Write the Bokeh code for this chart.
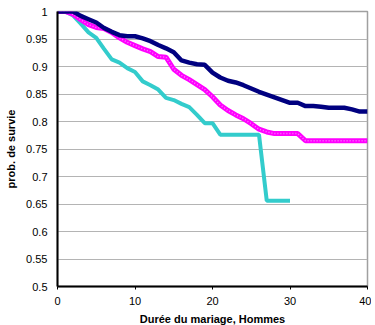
from bokeh.plotting import figure
from bokeh.models import FixedTicker, ColumnDataSource
from bokeh.embed import file_html
from bokeh.resources import INLINE

years_navy = list(range(0, 41))
navy_vals = [1.0, 1.0, 1.0, 0.992, 0.986, 0.980, 0.970, 0.963, 0.957, 0.955,
             0.955, 0.951, 0.946, 0.939, 0.933, 0.926, 0.911, 0.907, 0.904, 0.903,
             0.889, 0.880, 0.874, 0.871, 0.866, 0.860, 0.854, 0.849, 0.844, 0.839,
             0.834, 0.834, 0.828, 0.828, 0.827, 0.825, 0.825, 0.825, 0.822, 0.818,
             0.818]

years_magenta = list(range(0, 41))
magenta_vals = [1.0, 1.0, 0.995, 0.985, 0.976, 0.971, 0.969, 0.962, 0.952, 0.944,
                0.938, 0.932, 0.927, 0.918, 0.917, 0.895, 0.884, 0.876, 0.867, 0.858,
                0.845, 0.830, 0.820, 0.812, 0.805, 0.796, 0.786, 0.781, 0.778, 0.778,
                0.778, 0.778, 0.765, 0.765, 0.765, 0.765, 0.765, 0.765, 0.765, 0.765,
                0.765]

years_cyan = list(range(0, 31))
cyan_vals = [1.0, 1.0, 0.993, 0.978, 0.962, 0.952, 0.932, 0.913, 0.907, 0.897,
             0.890, 0.873, 0.866, 0.858, 0.843, 0.839, 0.832, 0.826, 0.812, 0.797,
             0.797, 0.776, 0.776, 0.776, 0.776, 0.776, 0.776, 0.656, 0.656, 0.656,
             0.656]

x_ticks = [0, 10, 20, 30, 40]
y_ticks = [0.5, 0.55, 0.6, 0.65, 0.7, 0.75, 0.8, 0.85, 0.9, 0.95, 1.0]
y_tick_labels = ["0.5", "0.55", "0.6", "0.65", "0.7", "0.75", "0.8", "0.85", "0.9", "0.95", "1"]

FONT = "Liberation Sans"

p = figure(frame_width=310, frame_height=275, output_backend="svg", toolbar_location=None,
           x_range=(0, 40), y_range=(0.5, 1.0),
           min_border_left=57, min_border_right=4, min_border_top=11, min_border_bottom=30)

p.background_fill_color = "white"
p.border_fill_color = "white"
p.outline_line_color = "#a0a0a0"
p.outline_line_width = 1.5

p.xgrid.grid_line_color = None
p.ygrid.grid_line_color = "#b4b4b4"
p.ygrid.grid_line_width = 1

src_n = ColumnDataSource(dict(x=years_navy, y=navy_vals))
src_m = ColumnDataSource(dict(x=years_magenta, y=magenta_vals))
src_c = ColumnDataSource(dict(x=years_cyan, y=cyan_vals))

p.line("x", "y", source=src_c, line_color="#33CCCC", line_width=4)
p.line("x", "y", source=src_m, line_color="#FF00FF", line_width=5)
p.line("x", "y", source=src_m, line_color="#FFB0FF", line_width=1.5, line_dash="1 2", line_alpha=0.7)
p.line("x", "y", source=src_n, line_color="#000080", line_width=4.5)

for ax in (p.xaxis, p.yaxis):
    ax.axis_line_color = "black"
    ax.axis_line_width = 2
    ax.major_tick_line_color = "black"
    ax.major_tick_in = 0
    ax.major_tick_out = 3
    ax.minor_tick_line_color = None
    ax.major_label_text_font = FONT
    ax.major_label_text_font_size = "11px"
    ax.major_label_text_color = "black"
    ax.axis_label_text_font = FONT
    ax.axis_label_text_font_style = "bold"
    ax.axis_label_text_font_size = "11px"
    ax.axis_label_text_color = "black"

p.xaxis.ticker = FixedTicker(ticks=x_ticks)
p.yaxis.ticker = FixedTicker(ticks=y_ticks)
p.yaxis.major_label_overrides = {t: l for t, l in zip(y_ticks, y_tick_labels)}
p.yaxis.major_tick_out = 0
p.yaxis.major_label_standoff = 10
p.xaxis.major_label_standoff = 7
p.xaxis.axis_label = "Durée du mariage, Hommes"
p.yaxis.axis_label = "prob. de survie"
p.xaxis.axis_label_standoff = 5
p.yaxis.axis_label_standoff = 6

open("out.html", "w").write(file_html(p, INLINE))
